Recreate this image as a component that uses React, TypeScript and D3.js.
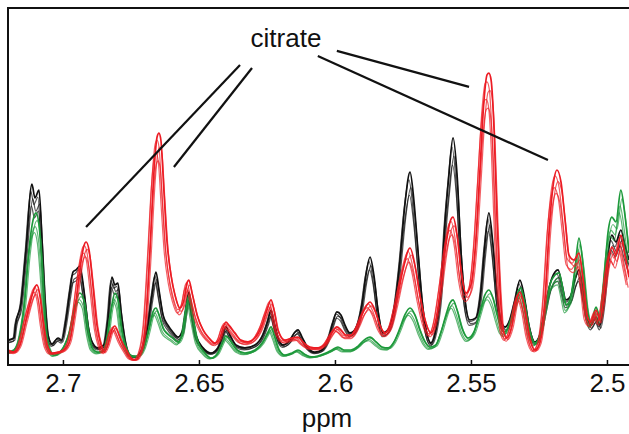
import React, { useEffect, useRef } from 'react';
import * as d3 from 'd3';

// ppm / intensity (a.u.) pairs
const blackSpectrum: [number, number][] = [
  [2.7202, 8.3], [2.718, 9.0], [2.7173, 14.0], [2.7154, 20.7], [2.7136, 38.3], [2.7114, 60.3],
  [2.7103, 55.7], [2.7088, 58.3], [2.7077, 41.7], [2.7066, 21.7], [2.7055, 10.0], [2.704, 7.0],
  [2.7018, 9.0], [2.7004, 8.3], [2.6989, 15.0], [2.6974, 25.0], [2.6963, 31.0], [2.6952, 31.7],
  [2.6938, 33.0], [2.6923, 25.0], [2.6908, 13.3], [2.6893, 7.7], [2.6871, 5.7], [2.6849, 6.7],
  [2.6835, 15.0], [2.682, 29.3], [2.6809, 26.7], [2.6798, 27.3], [2.6787, 18.3], [2.6772, 8.3],
  [2.6754, 3.3], [2.6732, 2.7], [2.671, 5.0], [2.6688, 13.3], [2.6673, 23.3], [2.6658, 31.0],
  [2.6647, 25.0], [2.6632, 16.7], [2.6614, 13.3], [2.6596, 11.0], [2.6577, 9.3], [2.6559, 11.7],
  [2.6548, 18.3], [2.6537, 24.3], [2.6526, 18.3], [2.6511, 10.0], [2.6485, 5.7], [2.6456, 4.0],
  [2.643, 5.7], [2.6412, 10.0], [2.6401, 12.7], [2.6386, 10.0], [2.6364, 6.7], [2.6331, 5.7],
  [2.6294, 6.7], [2.6265, 10.0], [2.6246, 15.0], [2.6235, 18.3], [2.6224, 14.3], [2.6206, 8.3],
  [2.6191, 6.7], [2.6165, 8.3], [2.6147, 11.0], [2.6136, 11.7], [2.6121, 9.3], [2.6099, 5.7],
  [2.6074, 4.3], [2.6048, 5.0], [2.6026, 8.3], [2.6007, 14.3], [2.5993, 17.7], [2.5978, 16.7],
  [2.5963, 13.3], [2.5945, 10.7], [2.5923, 12.3], [2.5901, 20.0], [2.5886, 30.0], [2.5871, 36.0],
  [2.5857, 30.0], [2.5842, 18.3], [2.5824, 10.7], [2.5805, 11.7], [2.5783, 18.3], [2.5761, 35.0],
  [2.5743, 53.3], [2.5724, 64.3], [2.571, 55.0], [2.5695, 38.3], [2.568, 21.7], [2.5665, 11.7],
  [2.5647, 7.3], [2.5629, 11.7], [2.561, 25.0], [2.5596, 46.7], [2.5581, 63.3], [2.5566, 75.7],
  [2.5551, 63.3], [2.5537, 38.3], [2.5522, 21.7], [2.5504, 15.0], [2.5482, 15.7], [2.5463, 25.0],
  [2.5449, 40.0], [2.5434, 50.7], [2.5419, 40.0], [2.5404, 23.3], [2.539, 15.0], [2.5375, 12.7],
  [2.5357, 15.0], [2.5338, 21.7], [2.532, 28.3], [2.5305, 23.3], [2.5287, 13.3], [2.5265, 7.7],
  [2.5246, 10.0], [2.5228, 18.3], [2.521, 26.7], [2.5191, 31.0], [2.518, 31.7], [2.5165, 26.7],
  [2.5151, 21.7], [2.5132, 23.3], [2.5118, 28.3], [2.5103, 31.7], [2.5088, 25.0], [2.5074, 16.7],
  [2.5059, 13.3], [2.504, 16.0], [2.5026, 13.3], [2.5011, 21.7], [2.4996, 36.7], [2.4982, 43.3],
  [2.4967, 41.0], [2.4949, 45.0], [2.4934, 40.0], [2.4919, 35.0],
];

const redSpectrum: [number, number][] = [
  [2.7202, 5.0], [2.718, 4.3], [2.7158, 6.7], [2.7136, 15.0], [2.7118, 21.7], [2.7103, 26.0],
  [2.7096, 26.7], [2.7085, 23.3], [2.7074, 15.0], [2.7059, 6.7], [2.704, 4.0], [2.7018, 4.3],
  [2.6996, 5.0], [2.6974, 8.3], [2.6956, 18.3], [2.6938, 31.7], [2.6923, 39.7], [2.6915, 41.0],
  [2.6904, 38.3], [2.689, 26.7], [2.6875, 13.3], [2.686, 6.7], [2.6849, 4.3], [2.6835, 6.7],
  [2.682, 11.7], [2.6809, 13.0], [2.6798, 11.0], [2.6787, 8.3], [2.6768, 5.0], [2.675, 2.3],
  [2.6732, 1.7], [2.6713, 4.3], [2.6695, 15.0], [2.668, 38.3], [2.6665, 65.0], [2.6654, 76.0],
  [2.6647, 77.3], [2.664, 75.0], [2.6629, 58.3], [2.6618, 41.7], [2.6603, 30.0], [2.6588, 23.3],
  [2.657, 19.0], [2.6555, 21.7], [2.6544, 27.3], [2.6537, 28.3], [2.6526, 24.3], [2.6507, 16.7],
  [2.6485, 11.7], [2.6463, 9.0], [2.6441, 7.3], [2.6423, 9.0], [2.6408, 13.3], [2.6401, 14.3],
  [2.639, 13.3], [2.6368, 10.7], [2.6346, 8.3], [2.632, 7.7], [2.6294, 9.0], [2.6268, 13.3],
  [2.625, 18.3], [2.6235, 21.7], [2.6224, 18.3], [2.621, 11.7], [2.6184, 8.3], [2.6158, 9.0],
  [2.6136, 9.3], [2.6118, 7.7], [2.6092, 6.0], [2.6063, 5.7], [2.6033, 7.3], [2.6011, 10.7],
  [2.5993, 12.7], [2.5978, 11.7], [2.596, 10.0], [2.5938, 10.0], [2.5915, 13.3], [2.5893, 18.3],
  [2.5871, 21.0], [2.5853, 18.3], [2.5835, 13.3], [2.5816, 10.7], [2.5794, 13.3], [2.5772, 21.7],
  [2.575, 31.7], [2.5724, 39.0], [2.5706, 33.3], [2.5688, 23.3], [2.5669, 15.0], [2.5647, 10.7],
  [2.5629, 15.0], [2.561, 26.7], [2.5592, 40.0], [2.5577, 47.7], [2.5566, 49.3], [2.5551, 43.3],
  [2.5537, 31.7], [2.5518, 24.0], [2.55, 26.7], [2.5482, 41.7], [2.5467, 65.0], [2.5452, 88.3],
  [2.5441, 96.7], [2.5434, 97.3], [2.5426, 95.0], [2.5415, 78.3], [2.5404, 48.3], [2.5393, 25.0],
  [2.5382, 11.7], [2.5368, 9.0], [2.5349, 13.3], [2.5331, 22.3], [2.532, 24.3], [2.5305, 20.0],
  [2.5287, 10.0], [2.5265, 5.0], [2.5246, 7.7], [2.5228, 21.7], [2.521, 48.3], [2.5195, 61.7],
  [2.5184, 65.0], [2.5169, 61.0], [2.5154, 48.3], [2.514, 36.7], [2.5121, 35.0], [2.5103, 37.3],
  [2.5088, 28.3], [2.5074, 16.7], [2.5059, 14.3], [2.504, 18.3], [2.5026, 15.0], [2.5011, 23.3],
  [2.4996, 34.3], [2.4982, 39.3], [2.4967, 36.7], [2.4949, 43.3], [2.4934, 36.7], [2.4919, 29.3],
];

const greenSpectrum: [number, number][] = [
  [2.7202, 4.3], [2.718, 5.0], [2.7158, 10.0], [2.714, 21.7], [2.7125, 38.3], [2.711, 48.3],
  [2.7099, 50.7], [2.7088, 46.7], [2.7077, 33.3], [2.7066, 15.0], [2.7051, 5.7], [2.7033, 3.3],
  [2.7011, 4.3], [2.6993, 6.7], [2.6974, 11.7], [2.6956, 20.0], [2.6938, 24.0], [2.6923, 21.7],
  [2.6908, 11.7], [2.6893, 5.7], [2.6871, 4.3], [2.6849, 5.0], [2.6835, 10.0], [2.682, 20.0],
  [2.6809, 24.0], [2.6798, 21.7], [2.6787, 13.3], [2.6768, 5.7], [2.6746, 3.0], [2.6724, 3.0],
  [2.6702, 5.7], [2.6684, 11.7], [2.6669, 17.7], [2.6658, 19.0], [2.6647, 16.7], [2.6632, 12.3],
  [2.6614, 10.3], [2.6596, 9.0], [2.6577, 7.7], [2.6559, 11.0], [2.6548, 18.3], [2.6537, 23.3],
  [2.6526, 17.7], [2.6507, 8.3], [2.6482, 4.3], [2.6456, 2.3], [2.643, 4.0], [2.6412, 7.7],
  [2.6401, 9.7], [2.6386, 8.3], [2.636, 5.0], [2.6331, 4.0], [2.6294, 5.0], [2.6265, 7.7],
  [2.6246, 11.0], [2.6235, 12.7], [2.6224, 10.0], [2.6206, 5.0], [2.6184, 3.3], [2.6158, 4.0],
  [2.6136, 5.0], [2.6114, 3.7], [2.6088, 2.7], [2.6063, 3.0], [2.6033, 4.0], [2.6011, 5.0],
  [2.5989, 6.0], [2.5967, 5.0], [2.5941, 5.0], [2.5915, 6.3], [2.5893, 8.3], [2.5871, 9.3],
  [2.5849, 7.7], [2.5827, 6.0], [2.5805, 5.7], [2.5783, 7.7], [2.5761, 12.3], [2.5743, 16.7],
  [2.5724, 19.0], [2.5706, 16.7], [2.5688, 11.7], [2.5669, 7.7], [2.5651, 6.0], [2.5629, 6.7],
  [2.561, 11.0], [2.5592, 16.7], [2.5577, 20.7], [2.5566, 21.7], [2.5551, 18.3], [2.5533, 12.3],
  [2.5511, 9.0], [2.5489, 11.0], [2.5467, 17.7], [2.5449, 23.3], [2.5434, 25.0], [2.5419, 22.3],
  [2.5404, 16.7], [2.539, 12.3], [2.5375, 11.0], [2.5357, 14.3], [2.5338, 20.0], [2.5324, 25.0],
  [2.5316, 25.7], [2.5305, 21.7], [2.5287, 12.3], [2.5265, 7.3], [2.5246, 10.0], [2.5228, 18.3],
  [2.521, 26.7], [2.5191, 30.0], [2.5176, 30.7], [2.5162, 25.0], [2.5151, 20.0], [2.5136, 21.7],
  [2.5118, 31.7], [2.5103, 42.3], [2.5088, 33.3], [2.5074, 20.0], [2.5059, 14.3], [2.504, 19.3],
  [2.5026, 15.7], [2.5011, 28.3], [2.4996, 44.3], [2.4982, 49.3], [2.4967, 47.7], [2.4949, 58.3],
  [2.4934, 50.0], [2.4919, 37.3],
];

// relative heights of the overlaid replicate spectra
const blackReplicates = [1, 0.96, 0.92, 0.88];
const blackShifts = [0, 0.0004, -0.0003, 0.0002];
const redReplicates = [1, 0.97, 0.94, 0.91, 0.88];
const redShifts = [0, 0.0007, -0.0004, 0.001, 0.0003];
const greenReplicates = [1, 0.95, 0.91, 0.87];
const greenShifts = [0, -0.0004, 0.0003, 0.0006];

const ppmTicks = [2.7, 2.65, 2.6, 2.55, 2.5];
const axisTitle = 'ppm';
const annotationLabel = 'citrate';
// annotation lines: from below the label to [ppm, intensity]
const citrateStarts: [number, number][] = [
  [2.6349, 100.0], [2.6305, 99.0], [2.5993, 104.7], [2.6063, 103.0],
];
const citrateTargets: [number, number][] = [
  [2.6915, 46.0], [2.6592, 66.0], [2.5507, 92.7], [2.5217, 68.3],
];

const FONT = '"Liberation Sans", Arial, Helvetica, sans-serif';

const App = () => {
  const svgRef = useRef<SVGSVGElement>(null);

  useEffect(() => {
    const svg = d3.select(svgRef.current);
    svg.selectAll('*').remove();

    const width = 629;
    const height = 434;
    const left = 8, top = 8, right = 629, bottom = 365;

    const x = d3.scaleLinear().domain([2.7202, 2.4919]).range([left, right]);
    const y = d3.scaleLinear().domain([0, 119]).range([bottom, top]);

    svg.attr('width', width).attr('height', height);

    svg.append('defs').append('clipPath').attr('id', 'plot-clip')
      .append('rect')
      .attr('x', left).attr('y', top)
      .attr('width', right - left).attr('height', bottom - top);

    const plot = svg.append('g').attr('clip-path', 'url(#plot-clip)');

    const line = (scale: number, shift: number) =>
      d3.line<[number, number]>()
        .x(d => x(d[0] + shift))
        .y(d => y(d[1] * scale))
        .curve(d3.curveMonotoneX);

    const drawSet = (data: [number, number][], scales: number[], shifts: number[], color: string) => {
      scales.forEach((s, i) => {
        plot.append('path')
          .datum(data)
          .attr('d', line(s, shifts[i] || 0))
          .attr('fill', 'none')
          .attr('stroke', color)
          .attr('stroke-width', i === 0 ? 1.7 : 1.2)
          .attr('stroke-opacity', i === 0 ? 1 : 0.7)
          .attr('stroke-linejoin', 'round');
      });
    };

    drawSet(blackSpectrum, blackReplicates, blackShifts, '#111111');
    drawSet(greenSpectrum, greenReplicates, greenShifts, '#1e9a3c');
    drawSet(redSpectrum, redReplicates, redShifts, '#ec1c24');

    // annotation
    svg.append('text')
      .attr('x', 286)
      .attr('y', 47)
      .attr('text-anchor', 'middle')
      .style('font-family', FONT)
      .style('font-size', '26px')
      .style('fill', '#111')
      .text(annotationLabel);

    svg.selectAll('.citrate-line')
      .data(citrateTargets)
      .enter()
      .append('line')
      .attr('class', 'citrate-line')
      .attr('x1', (d, i) => x(citrateStarts[i][0]))
      .attr('y1', (d, i) => y(citrateStarts[i][1]))
      .attr('x2', d => x(d[0]))
      .attr('y2', d => y(d[1]))
      .attr('stroke', '#111')
      .attr('stroke-width', 2.2);

    // frame
    svg.append('path')
      .attr('d', `M${right + 2},${top} H${left} V${bottom} H${right + 2}`)
      .attr('fill', 'none')
      .attr('stroke', '#111')
      .attr('stroke-width', 2);

    const axis = svg.append('g')
      .attr('transform', `translate(0,${bottom})`)
      .call(d3.axisBottom(x)
        .tickValues(ppmTicks)
        .tickFormat(d => String(d))
        .tickSizeInner(-5)
        .tickSizeOuter(0)
        .tickPadding(8.5));
    axis.select('.domain').remove();
    axis.selectAll('line').attr('stroke', '#111').attr('stroke-width', 1.5);
    axis.selectAll('text')
      .style('font-family', FONT)
      .style('font-size', '26px')
      .style('fill', '#111');

    svg.append('text')
      .attr('x', 327)
      .attr('y', 427)
      .attr('text-anchor', 'middle')
      .style('font-family', FONT)
      .style('font-size', '26px')
      .style('fill', '#111')
      .text(axisTitle);
  }, []);

  return (
    <div style={{ position: 'absolute', left: 0, top: 0 }}>
      <svg ref={svgRef} style={{ display: 'block', background: '#fff' }}></svg>
    </div>
  );
};

export default App;
